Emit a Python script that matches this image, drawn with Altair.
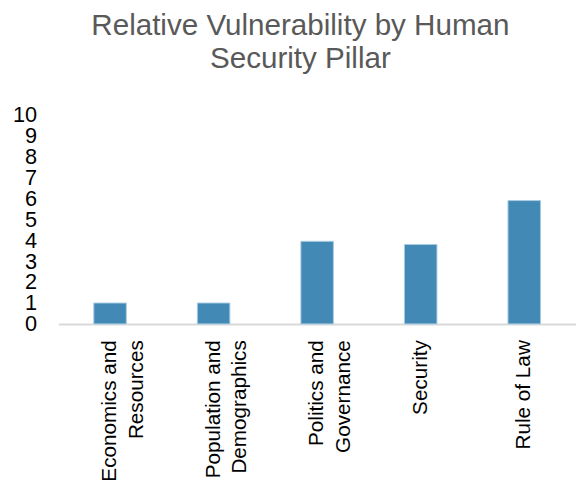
import altair as alt
import pandas as pd

categories = ["Economics and\nResources", "Population and\nDemographics",
              "Politics and\nGovernance", "Security", "Rule of Law"]
values = [1.0, 1.0, 3.95, 3.8, 5.9]
y_ticks = list(range(0, 11))

df = pd.DataFrame({"pillar": categories, "value": values})

chart = alt.Chart(df).mark_bar(
    color="#428AB5", stroke="#A9CBE3", strokeWidth=1
).encode(
    x=alt.X("pillar:N", sort=categories, title=None,
            scale=alt.Scale(paddingInner=0.686, paddingOuter=0.343),
            axis=alt.Axis(labelAngle=-90, labelAlign="right", labelBaseline="middle",
                          labelExpr="split(datum.label, '\\n')",
                          labelFont="Liberation Sans", labelFontSize=21, labelColor="#000000",
                          labelLineHeight=27, labelPadding=16, ticks=False,
                          domainColor="#D9D9D9", domainWidth=2, labelLimit=300)),
    y=alt.Y("value:Q", title=None,
            scale=alt.Scale(domain=[0, 10], nice=False),
            axis=alt.Axis(values=y_ticks, grid=False, domain=False, ticks=False,
                          labelOverlap=False,
                          labelFont="Liberation Sans", labelFontSize=22, labelColor="#000000",
                          labelPadding=22, labelFlush=False))
).properties(
    width=525, height=212,
    autosize=alt.AutoSizeParams(type="none"),
    padding={"left": 51, "top": 105, "right": 0, "bottom": 160},
    title=alt.TitleParams(
        ["Relative Vulnerability by Human", "Security Pillar"],
        font="Liberation Sans", fontSize=30, fontWeight="normal", color="#595959",
        anchor="middle", dx=-17, offset=30, lineHeight=34
    )
).configure_view(stroke=None)

chart.save("out.html", embed_options={"renderer": "svg", "actions": False})
